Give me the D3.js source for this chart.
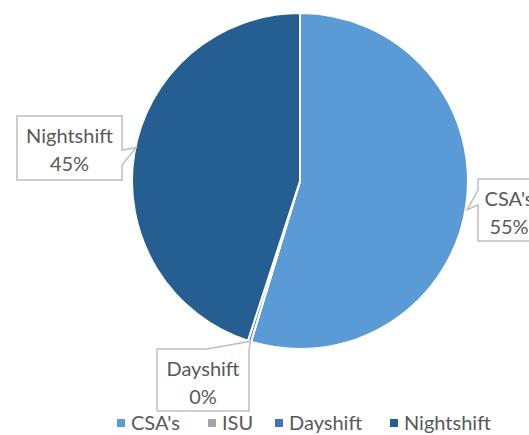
<html>
<head>
<script src="https://cdnjs.cloudflare.com/ajax/libs/d3/7.9.0/d3.min.js"></script>
<style>
  body { margin: 0; background: #fff; }
  text { font-family: Lato, "Open Sans", sans-serif; fill: #595959; }
</style>
</head>
<body onload="main()">
</body>
<script>
  const categories = ["CSA's", 'ISU', 'Dayshift', 'Nightshift']
  const values = [180, 0, 1, 148]
  const colors = ['#5B9BD5', '#A5A5A5', '#4472C4', '#255E91']

  function main() {
    const width = 529
    const height = 435
    const radius = 168
    const cx = 300
    const cy = 181
    const svg = d3.select('body')
      .append('svg')
      .attr('width', width)
      .attr('height', height)

    const data = categories.map((name, i) => ({ name, value: values[i], color: colors[i] }))
    const total = d3.sum(values)
    const pct = d3.format('.0%')
    const arcs = d3.pie().sort(null).value(d => d.value)(data)
    const arc = d3.arc().innerRadius(0).outerRadius(radius)

    const g = svg.append('g')
      .attr('transform', `translate(${cx}, ${cy})`)
    g.selectAll('path')
      .data(arcs)
      .enter()
      .append('path')
      .attr('d', arc)
      .attr('fill', d => d.data.color)
      .attr('stroke', '#fff')
      .attr('stroke-width', 2)

    // callouts, placed relative to the edge point of each slice
    const edge = d => {
      const a = (d.startAngle + d.endAngle) / 2
      return [cx + radius * Math.sin(a), cy - radius * Math.cos(a)]
    }
    const callouts = {
      "CSA's": { box: [478, 179, 62, 62], side: 'left' },
      'Dayshift': { box: [157, 349, 92, 62], side: 'top' },
      'Nightshift': { box: [17, 116, 105, 64], side: 'right' }
    }
    arcs.forEach(d => {
      const c = callouts[d.data.name]
      if (!c) return
      const [x, y, w, h] = c.box
      let tip = edge(d)
      let pts
      if (c.side === 'left') {
        tip = [tip[0] + 1, tip[1] + 4]
        pts = [[x, y], [x + w, y], [x + w, y + h], [x, y + h], [x, y + 26], tip, [x, y + 11]]
      } else if (c.side === 'right') {
        tip = [tip[0] + 2, tip[1] - 7]
        pts = [[x, y], [x + w, y], [x + w, y + 34], tip, [x + w, y + 49], [x + w, y + h], [x, y + h]]
      } else {
        tip = [tip[0] + 1, tip[1]]
        pts = [[x, y], [x + 50, y], tip, [x + w, y + 1], [x + w, y + h], [x, y + h]]
      }
      svg.append('path')
        .attr('d', d3.line()(pts) + 'Z')
        .attr('fill', '#fff')
        .attr('stroke', '#BFBFBF')
        .attr('stroke-width', 1.5)
      svg.append('text')
        .attr('x', x + w / 2)
        .attr('y', y + 27)
        .attr('text-anchor', 'middle')
        .attr('font-size', 20)
        .text(d.data.name)
      svg.append('text')
        .attr('x', x + w / 2)
        .attr('y', y + 55)
        .attr('text-anchor', 'middle')
        .attr('font-size', 20)
        .text(pct(d.data.value / total))
    })

    // legend
    const legendX = [117, 208, 275, 390]
    const legend = svg.append('g')
      .attr('transform', 'translate(0, 423)')
    data.forEach((d, i) => {
      legend.append('rect')
        .attr('x', legendX[i])
        .attr('y', -4)
        .attr('width', 8)
        .attr('height', 8)
        .attr('fill', d.color)
      legend.append('text')
        .attr('x', legendX[i] + 14)
        .attr('y', 7)
        .attr('font-size', 20)
        .text(d.name)
    })
  }
</script>
</html>
